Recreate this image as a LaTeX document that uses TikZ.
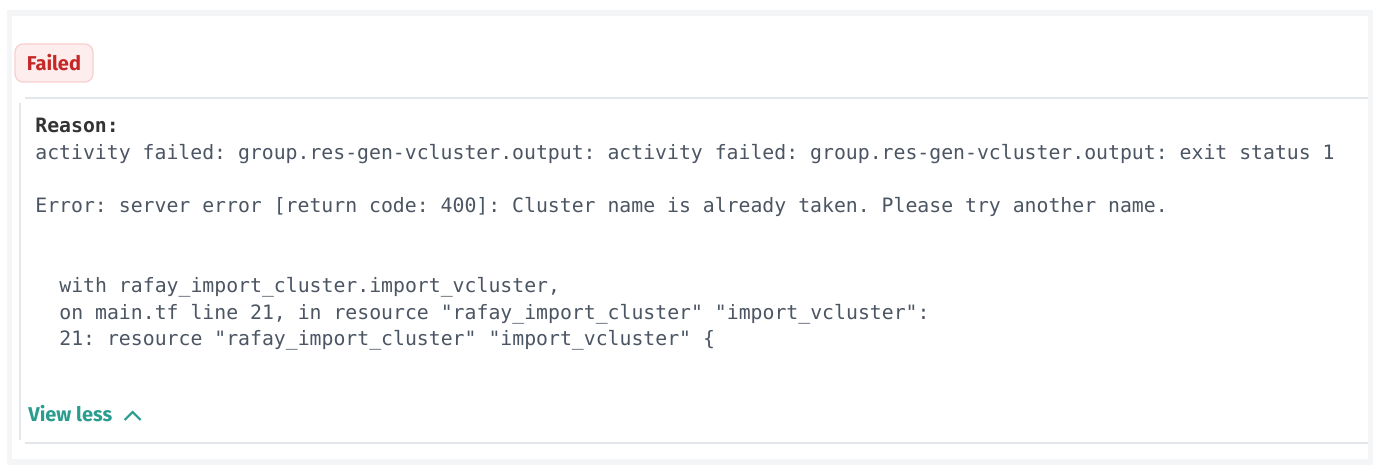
\documentclass[tikz,border=0pt]{standalone}
\usepackage{fontspec}
\setmainfont{Fira Sans}
\setmonofont{DejaVu Sans Mono}
\usetikzlibrary{positioning}
\definecolor{framegray}{HTML}{F4F5F6}
\definecolor{linegray}{HTML}{E3E7EC}
\definecolor{codegray}{HTML}{4B5563}
\definecolor{badgefill}{HTML}{FDEDED}
\definecolor{badgeline}{HTML}{F7CFCF}
\definecolor{failred}{HTML}{C62828}
\definecolor{linkteal}{HTML}{2A9D8F}
\tikzset{
  codeline/.style={anchor=base west, inner sep=0pt, text=codegray, font=\ttfamily\fontsize{9.9}{12}\selectfont},
  badge/.style={draw=badgeline, fill=badgefill, rounded corners=4pt, line width=0.6pt, minimum width=39pt, minimum height=19pt, inner sep=0pt, text=failred, font=\bfseries\fontsize{10}{12}\selectfont},
}
\begin{document}
\begin{tikzpicture}[x=0.5pt, y=-0.5pt]
    % Frame
    \useasboundingbox (0,0) rectangle (1388,470);
    \fill[framegray] (7,10) rectangle (1373,465);
    \fill[white] (12,16) rectangle (1368,459);

    % Status badge
    \node[badge] (status) at (54,63) {Failed};

    % Reason panel
    \draw[linegray, line width=1pt] (25,98) -- (1368,98);
    \draw[linegray, line width=1pt] (20,103) -- (20,440);
    \draw[linegray, line width=1pt] (25,443) -- (1368,443);

    % Message lines
    \node[codeline, font=\ttfamily\bfseries\fontsize{9.9}{12}\selectfont, text=black!80] (reason) at (35,133) {Reason:};
    \node[codeline] (msg1) at (35,160) {activity failed: group.res-gen-vcluster.output: activity failed: group.res-gen-vcluster.output: exit status 1};
    \node[codeline] (msg2) at (35,213) {Error: server error [return code: 400]: Cluster name is already taken. Please try another name.};
    \node[codeline] (msg3) at (59,293) {with rafay\_import\_cluster.import\_vcluster,};
    \node[codeline] (msg4) at (59,320) {on main.tf line 21, in resource "rafay\_import\_cluster" "import\_vcluster":};
    \node[codeline] (msg5) at (59,346) {21: resource "rafay\_import\_cluster" "import\_vcluster" \{};

    % Toggle
    \node[anchor=base west, inner sep=0pt, text=linkteal, font=\bfseries\fontsize{10}{12}\selectfont] (toggle) at (28,422) {View less};
    \draw[linkteal, line width=1pt] ([xshift=6pt,yshift=1pt]toggle.base east) -- ++(8,-8) -- ++(8,8);

\end{tikzpicture}
\end{document}
